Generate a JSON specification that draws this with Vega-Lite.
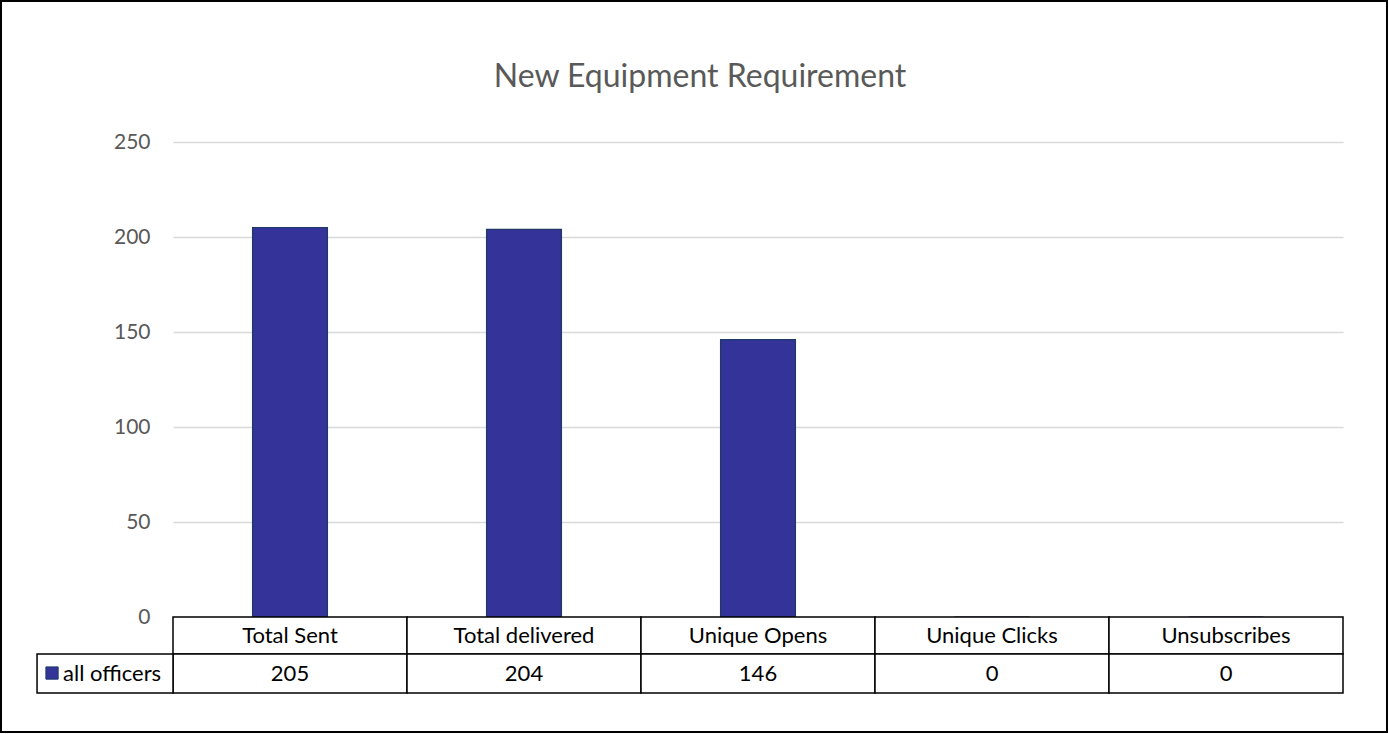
{
  "$schema": "https://vega.github.io/schema/vega-lite/v6.json",
  "width": 1170,
  "height": 551,
  "autosize": {"type": "none"},
  "padding": {"left": 173, "top": 142, "right": 46, "bottom": 41},
  "background": "white",
  "config": {
    "view": {"stroke": null},
    "font": "Lato",
    "axisY": {"labelFont": "Lato", "labelFontSize": 21, "labelColor": "#595959", "gridColor": "#d9d9d9", "gridWidth": 1.5, "domain": false, "ticks": false, "labelPadding": 23}
  },
  "title": {
    "text": "New Equipment Requirement",
    "font": "Lato",
    "fontSize": 32,
    "fontWeight": "normal",
    "color": "#595959",
    "anchor": "middle",
    "baseline": "alphabetic",
    "offset": -119,
    "dx": -58
  },
  "data": {
    "values": [
      {"category": "Total Sent", "value": 205},
      {"category": "Total delivered", "value": 204},
      {"category": "Unique Opens", "value": 146},
      {"category": "Unique Clicks", "value": 0},
      {"category": "Unsubscribes", "value": 0}
    ]
  },
  "resolve": {"scale": {"x": "independent"}, "axis": {"x": "independent"}},
  "layer": [
    {
      "mark": {"type": "bar", "fill": "#333399", "stroke": "#1f3864", "strokeWidth": 1.2, "width": {"band": 0.32}, "clip": false},
      "encoding": {
        "x": {"field": "category", "type": "nominal", "sort": null, "scale": {"paddingInner": 0, "paddingOuter": 0}, "axis": null},
        "y": {"field": "value", "type": "quantitative", "scale": {"domain": [-40, 250], "nice": false, "zero": false}, "axis": {"values": [0, 50, 100, 150, 200, 250], "title": null, "grid": true}}
      }
    },
    {
      "mark": {"type": "rect", "fill": "white", "stroke": "black", "strokeWidth": 1.5, "clip": false},
      "encoding": {
        "x": {"field": "category", "type": "nominal", "sort": null, "scale": {"paddingInner": 0, "paddingOuter": 0}, "axis": null},
        "y": {"datum": 0},
        "y2": {"datum": -19.5}
      }
    },
    {
      "mark": {"type": "rect", "fill": "white", "stroke": "black", "strokeWidth": 1.5, "clip": false},
      "encoding": {
        "x": {"field": "category", "type": "nominal", "sort": null, "scale": {"paddingInner": 0, "paddingOuter": 0}, "axis": null},
        "y": {"datum": -19.5},
        "y2": {"datum": -40}
      }
    },
    {
      "mark": {"type": "text", "font": "Lato", "fontSize": 22, "color": "black", "baseline": "middle", "align": "center"},
      "encoding": {
        "x": {"field": "category", "type": "nominal", "sort": null, "scale": {"paddingInner": 0, "paddingOuter": 0}, "axis": null},
        "y": {"datum": -9.75},
        "text": {"field": "category"}
      }
    },
    {
      "mark": {"type": "text", "font": "Lato", "fontSize": 22, "color": "black", "baseline": "middle", "align": "center"},
      "encoding": {
        "x": {"field": "category", "type": "nominal", "sort": null, "scale": {"paddingInner": 0, "paddingOuter": 0}, "axis": null},
        "y": {"datum": -29.75},
        "text": {"field": "value", "type": "quantitative"}
      }
    },
    {
      "data": {"values": [{"series": "all officers"}]},
      "layer": [
        {
          "mark": {"type": "rect", "fill": "white", "stroke": "black", "strokeWidth": 1.5, "clip": false},
          "encoding": {
            "x": {"datum": -0.581, "type": "quantitative", "scale": {"domain": [0, 5], "nice": false, "zero": false}, "axis": null},
            "x2": {"datum": 0},
            "y": {"datum": -19.5},
            "y2": {"datum": -40}
          }
        },
        {
          "mark": {"type": "square", "fill": "#333399", "stroke": "#1f3864", "strokeWidth": 1, "opacity": 1, "size": 150, "clip": false},
          "encoding": {
            "x": {"datum": -0.517, "type": "quantitative", "scale": {"domain": [0, 5], "nice": false, "zero": false}, "axis": null},
            "y": {"datum": -29.5}
          }
        },
        {
          "mark": {"type": "text", "font": "Lato", "fontSize": 22, "color": "black", "baseline": "middle", "align": "left", "clip": false},
          "encoding": {
            "x": {"datum": -0.47, "type": "quantitative", "scale": {"domain": [0, 5], "nice": false, "zero": false}, "axis": null},
            "y": {"datum": -29.75},
            "text": {"field": "series"}
          }
        },
        {
          "mark": {"type": "rect", "fill": null, "stroke": "black", "strokeWidth": 2, "clip": false},
          "encoding": {
            "x": {"datum": -0.735, "type": "quantitative", "scale": {"domain": [0, 5], "nice": false, "zero": false}, "axis": null},
            "x2": {"datum": 5.188},
            "y": {"datum": 324.2},
            "y2": {"datum": -60.5}
          }
        }
      ]
    }
  ]
}
